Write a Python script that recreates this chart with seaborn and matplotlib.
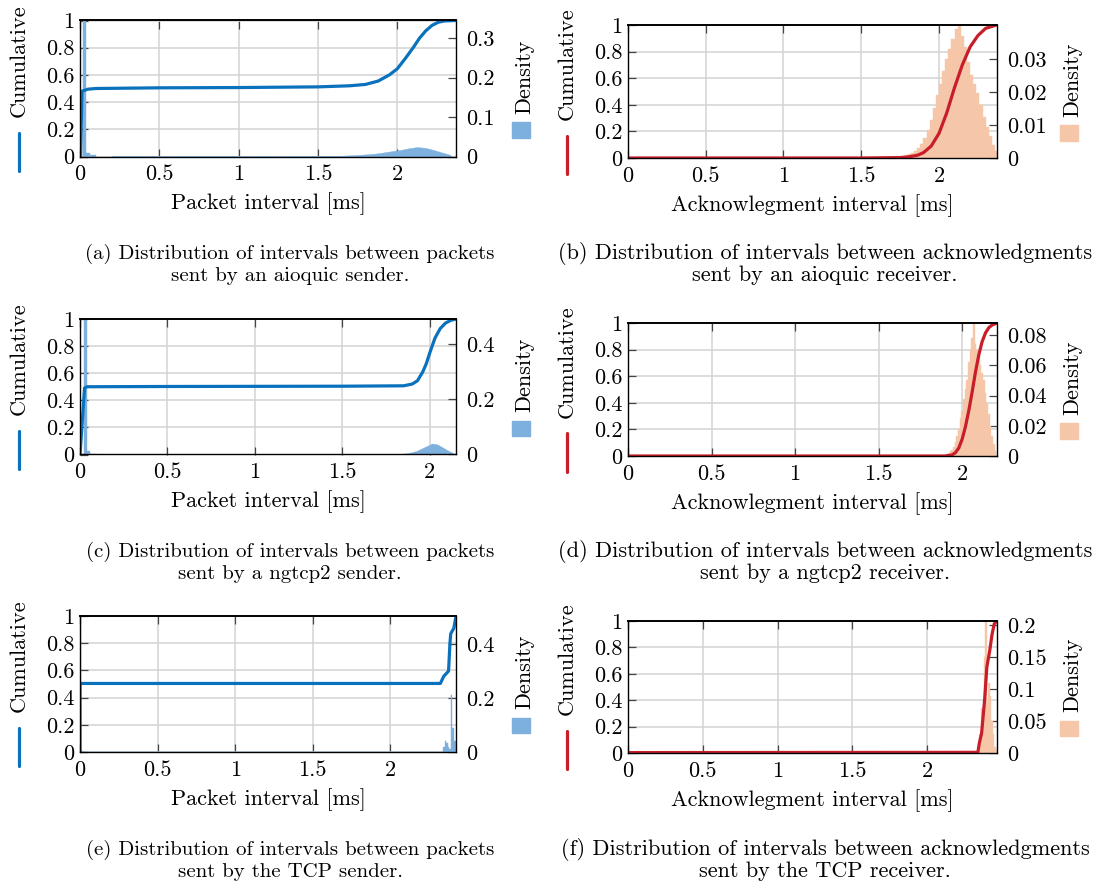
import numpy as np
import pandas as pd
import matplotlib
matplotlib.use("Agg")
import matplotlib.pyplot as plt
import seaborn as sns
from matplotlib.lines import Line2D
from matplotlib.patches import Rectangle

sns.set_style("white")
plt.rcParams['font.family'] = ['cmr10', 'DejaVu Serif']
plt.rcParams['axes.formatter.use_mathtext'] = True
plt.rcParams['mathtext.fontset'] = 'cm'
for k in ('text.color', 'axes.labelcolor', 'xtick.color', 'ytick.color'):
    plt.rcParams[k] = 'black'

# ---------------- data ----------------
x_ticks = [0, 0.5, 1, 1.5, 2]
x_tick_labels = ['0', '0.5', '1', '1.5', '2']
cum_ticks = [0, 0.2, 0.4, 0.6, 0.8, 1]
cum_tick_labels = ['0', '0.2', '0.4', '0.6', '0.8', '1']

# (a) aioquic sender
a_cum_x = [0.0, 0.004, 0.012, 0.05, 0.1, 0.5, 1.0, 1.5, 1.7, 1.8, 1.88, 1.95, 2.0, 2.05, 2.1, 2.14, 2.18, 2.22, 2.26, 2.3, 2.37]
a_cum_y = [0.0, 0.0, 0.48, 0.495, 0.50, 0.505, 0.507, 0.512, 0.52, 0.53, 0.555, 0.60, 0.645, 0.72, 0.80, 0.87, 0.925, 0.965, 0.988, 0.997, 1.0]
a_spike_edges = [0.0, 0.02, 0.036, 0.06, 0.1]
a_spike_dens = [0.0, 0.50, 0.008, 0.004]
a_bump_edges = [0.1, 0.3, 0.6, 1.0, 1.4, 1.6, 1.7, 1.8, 1.85, 1.9, 1.95, 2.0, 2.05, 2.1, 2.15, 2.2, 2.25, 2.3, 2.37]
a_bump_dens = [0.0015, 0.001, 0.001, 0.001, 0.0015, 0.002, 0.004, 0.006, 0.008, 0.011, 0.014, 0.017, 0.021, 0.024, 0.022, 0.017, 0.011, 0.004]

# (b) aioquic receiver
b_cum_x = [0.0, 1.5, 1.75, 1.8, 1.86, 1.9, 1.95, 2.0, 2.05, 2.1, 2.15, 2.2, 2.25, 2.3, 2.37]
b_cum_y = [0.0, 0.0, 0.003, 0.008, 0.02, 0.04, 0.09, 0.185, 0.34, 0.53, 0.70, 0.835, 0.92, 0.975, 1.0]
b_edges = [1.76, 1.78, 1.80, 1.82, 1.84, 1.86, 1.88, 1.90, 1.92, 1.94, 1.96, 1.98, 2.00, 2.02, 2.04, 2.06,
           2.08, 2.10, 2.12, 2.14, 2.16, 2.18, 2.20, 2.22, 2.24, 2.26, 2.28, 2.30, 2.32, 2.34, 2.36, 2.38]
b_dens = [0.0005, 0.0008, 0.0012, 0.0016, 0.0022, 0.0030, 0.0042, 0.0060, 0.0085, 0.0115, 0.0150, 0.0190,
          0.0225, 0.0262, 0.0300, 0.0330, 0.0360, 0.0390, 0.0400, 0.0370, 0.0335, 0.0290, 0.0250, 0.0225,
          0.0195, 0.0160, 0.0125, 0.0095, 0.0065, 0.0040, 0.0020]

# (c) ngtcp2 sender
c_cum_x = [0.0, 0.026, 0.04, 0.5, 1.0, 1.5, 1.85, 1.9, 1.93, 1.96, 1.98, 2.0, 2.03, 2.06, 2.09, 2.12, 2.15]
c_cum_y = [0.0, 0.49, 0.50, 0.502, 0.503, 0.504, 0.507, 0.52, 0.545, 0.61, 0.67, 0.75, 0.86, 0.93, 0.97, 0.99, 1.0]
c_spike_edges = [0.0, 0.022, 0.038, 0.055, 0.1]
c_spike_dens = [0.0, 0.6, 0.012, 0.002]
c_bump_edges = [0.1, 1.0, 1.80, 1.85, 1.90, 1.95, 2.0, 2.03, 2.06, 2.09, 2.12, 2.15]
c_bump_dens = [0.0005, 0.0005, 0.002, 0.005, 0.013, 0.028, 0.040, 0.036, 0.025, 0.014, 0.005]

# (d) ngtcp2 receiver
d_cum_x = [0.0, 1.9, 1.94, 1.96, 1.98, 2.0, 2.02, 2.04, 2.06, 2.08, 2.10, 2.12, 2.14, 2.16, 2.18, 2.21]
d_cum_y = [0.0, 0.0, 0.008, 0.025, 0.06, 0.125, 0.22, 0.34, 0.48, 0.63, 0.76, 0.86, 0.925, 0.965, 0.985, 1.0]
d_edges = [1.895, 1.905, 1.915, 1.925, 1.935, 1.945, 1.955, 1.965, 1.975, 1.985, 1.995, 2.005, 2.015, 2.025,
           2.035, 2.045, 2.055, 2.065, 2.075, 2.085, 2.095, 2.105, 2.115, 2.125, 2.135, 2.145, 2.155, 2.165,
           2.175, 2.185, 2.195, 2.205]
d_dens = [0.0007, 0.001, 0.002, 0.003, 0.004, 0.006, 0.009, 0.013, 0.018, 0.025, 0.030, 0.038, 0.044, 0.050,
          0.062, 0.070, 0.078, 0.088, 0.074, 0.070, 0.066, 0.060, 0.055, 0.050, 0.042, 0.035, 0.028, 0.020,
          0.013, 0.008, 0.003]

# (e) TCP sender
e_cum_x = [0.0, 0.0, 1.0, 2.323, 2.345, 2.376, 2.385, 2.39, 2.41, 2.424]
e_cum_y = [0.0, 0.504, 0.504, 0.504, 0.557, 0.595, 0.80, 0.87, 0.91, 1.0]
e_edges = [0.0, 0.006, 0.02, 2.34, 2.35, 2.36, 2.37, 2.38, 2.39, 2.40, 2.41, 2.424]
e_dens = [0.6, 0.002, 0.0005, 0.02, 0.04, 0.035, 0.02, 0.01, 0.213, 0.09, 0.04]

# (f) TCP receiver
f_cum_x = [0.0, 2.34, 2.35, 2.365, 2.385, 2.40, 2.42, 2.435, 2.45, 2.468]
f_cum_y = [0.003, 0.005, 0.075, 0.15, 0.40, 0.65, 0.78, 0.90, 0.98, 1.0]
f_edges = [2.35, 2.36, 2.37, 2.38, 2.39, 2.40, 2.41, 2.42, 2.43, 2.44, 2.45, 2.46, 2.468]
f_dens = [0.03, 0.07, 0.05, 0.15, 0.21, 0.08, 0.11, 0.09, 0.05, 0.03, 0.01, 0.005]

captions = [
    ("(a) Distribution of intervals between packets", "sent by an aioquic sender."),
    ("(b) Distribution of intervals between acknowledgments", "sent by an aioquic receiver."),
    ("(c) Distribution of intervals between packets", "sent by a ngtcp2 sender."),
    ("(d) Distribution of intervals between acknowledgments", "sent by a ngtcp2 receiver."),
    ("(e) Distribution of intervals between packets", "sent by the TCP sender."),
    ("(f) Distribution of intervals between acknowledgments", "sent by the TCP receiver."),
]

BLUE_LINE = '#0a72bd'
BLUE_FILL = '#7eb0de'
RED_LINE = '#c81e2a'
RED_FILL = '#f5c6a8'

W, H = 1097, 889
FS = 16

fig = plt.figure(figsize=(W / 100, H / 100), dpi=100)


def fx(px):
    return px / W


def fy(py):
    return 1 - py / H


def caption_block(lines, cx, y1, y2, size):
    fig.text(fx(cx), fy(y1), lines[0], ha='center', va='baseline', fontsize=size)
    fig.text(fx(cx), fy(y2), lines[1], ha='center', va='baseline', fontsize=size)


def hist(axh, edges, dens, fc, element):
    edges = [float(e) for e in edges]
    centers = [(edges[i] + edges[i + 1]) / 2 for i in range(len(edges) - 1)]
    hdf = pd.DataFrame({'x': centers, 'w': [float(v) for v in dens]})
    sns.histplot(data=hdf, x='x', weights='w', bins=edges, stat='count', ax=axh,
                 color=fc, alpha=1, edgecolor=fc, linewidth=0.3, element=element)


def panel(l, t, r, b, xmax, cx, cy, hists, dmax, dticks, dlabels, xlabel,
          lc, fc, dens_off):
    ax = fig.add_axes([fx(l), fy(b), fx(r - l), (b - t) / H])
    axh = ax.twinx()
    axl = ax.twinx()
    ax.set_zorder(1)
    axh.set_zorder(2)
    axl.set_zorder(3)
    for a in (axh, axl):
        a.patch.set_visible(False)

    # density histogram(s)
    for edges, dens, element in hists:
        hist(axh, edges, dens, fc, element)
    axh.set_ylim(0, dmax)
    axh.set_yticks(dticks)
    axh.set_yticklabels(dlabels)
    axh.set_ylabel('')
    axh.set_xlabel('')

    # cumulative line
    df = pd.DataFrame({'x': cx, 'y': cy})
    sns.lineplot(data=df, x='x', y='y', ax=axl, color=lc, linewidth=2.3,
                 estimator=None, sort=False)
    axl.set_ylim(0, 1)
    axl.yaxis.set_visible(False)
    axl.set_xlabel('')
    axl.set_ylabel('')

    ax.set_xlim(0, xmax)
    ax.set_ylim(0, 1)
    ax.set_xticks(x_ticks)
    ax.set_xticklabels(x_tick_labels)
    ax.set_yticks(cum_ticks)
    ax.set_yticklabels(cum_tick_labels)
    ax.grid(True, color='#d3d3d3', linewidth=1.1)
    ax.set_axisbelow(True)
    ax.tick_params(axis='x', direction='in', length=6, width=0.9, color='#444444',
                   top=True, bottom=True, labelsize=FS, pad=6)
    ax.tick_params(axis='y', direction='in', length=6, width=0.9, color='#444444',
                   left=True, right=False, labelsize=FS, pad=4)
    axh.tick_params(axis='y', direction='in', length=6, width=0.9, color='#444444',
                    right=True, left=False, labelsize=FS, pad=7)
    ax.set_xlabel(xlabel, fontsize=FS, labelpad=6)
    ax.set_ylabel('')

    for a in (ax, axh):
        for s in a.spines.values():
            s.set_visible(False)
    for s in axl.spines.values():
        s.set_visible(True)
        s.set_color('black')
        s.set_linewidth(1.0)
    axl.spines['top'].set_linewidth(1.4)

    yc = (t + b) / 2
    # left label with legend line
    xl = l - 61
    fig.text(fx(xl), fy(yc - 28), 'Cumulative', rotation=90, ha='center', va='center', fontsize=FS)
    fig.add_artist(Line2D([fx(xl), fx(xl)], [fy(yc + 44), fy(yc + 82)], color=lc, lw=2.3,
                          transform=fig.transFigure))
    # right label with legend patch
    xd = r + dens_off
    fig.text(fx(xd), fy(yc - 12), 'Density', rotation=90, ha='center', va='center', fontsize=FS)
    fig.add_artist(Rectangle((fx(xd - 13), fy(yc + 49)), 18 / W, 15 / H, color=fc,
                             transform=fig.transFigure))


panel(80, 20.5, 456, 156.5, 2.37, a_cum_x, a_cum_y,
      [(a_spike_edges, a_spike_dens, 'bars'), (a_bump_edges, a_bump_dens, 'poly')], 0.345,
      [0, 0.1, 0.2, 0.3], ['0', '0.1', '0.2', '0.3'], 'Packet interval [ms]',
      BLUE_LINE, BLUE_FILL, 69)
panel(628, 25, 997, 158, 2.373, b_cum_x, b_cum_y, [(b_edges, b_dens, 'bars')], 0.0402,
      [0, 0.01, 0.02, 0.03], ['0', '0.01', '0.02', '0.03'], 'Acknowlegment interval [ms]',
      RED_LINE, RED_FILL, 76)
panel(80, 319, 456, 454.5, 2.15, c_cum_x, c_cum_y,
      [(c_spike_edges, c_spike_dens, 'bars'), (c_bump_edges, c_bump_dens, 'poly')], 0.49,
      [0, 0.2, 0.4], ['0', '0.2', '0.4'], 'Packet interval [ms]',
      BLUE_LINE, BLUE_FILL, 69)
panel(628, 323, 997, 456, 2.209, d_cum_x, d_cum_y, [(d_edges, d_dens, 'bars')], 0.088,
      [0, 0.02, 0.04, 0.06, 0.08], ['0', '0.02', '0.04', '0.06', '0.08'], 'Acknowlegment interval [ms]',
      RED_LINE, RED_FILL, 76)
panel(80, 616, 456, 752, 2.424, e_cum_x, e_cum_y, [(e_edges, e_dens, 'bars')], 0.506,
      [0, 0.2, 0.4], ['0', '0.2', '0.4'], 'Packet interval [ms]',
      BLUE_LINE, BLUE_FILL, 69)
panel(628, 621, 997, 753, 2.468, f_cum_x, f_cum_y, [(f_edges, f_dens, 'bars')], 0.207,
      [0, 0.05, 0.1, 0.15, 0.2], ['0', '0.05', '0.1', '0.15', '0.2'], 'Acknowlegment interval [ms]',
      RED_LINE, RED_FILL, 76)

for i, (cy1, cy2) in enumerate([(259, 281), (557, 579), (855, 877)]):
    caption_block(captions[2 * i], 290, cy1, cy2, 15)
    caption_block(captions[2 * i + 1], 825, cy1, cy2, 16)

fig.savefig('out.png', dpi=100)
